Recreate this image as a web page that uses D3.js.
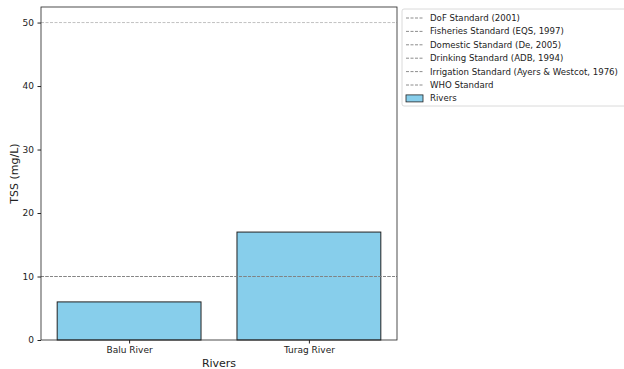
<!DOCTYPE html>
<html><head><meta charset="utf-8">
<script src="https://cdn.jsdelivr.net/npm/d3@7"></script>
<style>body{margin:0;background:#fff}svg{display:block}text{font-family:"DejaVu Sans",sans-serif}</style>
</head><body><svg id="c" width="624" height="369"></svg>
<script>
const rivers = ["Balu River", "Turag River"];
const tss = [6, 17];
const standardNames = ["DoF Standard (2001)", "Fisheries Standard (EQS, 1997)", "Domestic Standard (De, 2005)", "Drinking Standard (ADB, 1994)", "Irrigation Standard (Ayers & Westcot, 1976)", "WHO Standard"];
const standardValues = [10, 10, 10, 10, 50, 10];
const yTicks = [0, 10, 20, 30, 40, 50];

const svg = d3.select("#c");
const L = 41, R = 397, T = 7, B = 340;
const x = d3.scaleLinear().domain([-0.49, 1.49]).range([L, R]);
const y = d3.scaleLinear().domain([0, 52.45]).range([B, T]);
const barW = 0.8;

const g = svg.append("g");
g.selectAll("rect.bar").data(rivers).join("rect").attr("class","bar")
  .attr("x", (d,i)=>x(i-barW/2)).attr("width", (d,i)=>x(i+barW/2)-x(i-barW/2))
  .attr("y", (d,i)=>y(tss[i])).attr("height", (d,i)=>y(0)-y(tss[i]))
  .attr("fill","#87ceeb").attr("stroke","#222").attr("stroke-width",1);

g.selectAll("line.std").data(standardValues).join("line").attr("class","std")
  .attr("x1", L).attr("x2", R).attr("y1", d=>y(d)).attr("y2", d=>y(d))
  .attr("stroke","#808080").attr("stroke-width",0.9).attr("stroke-dasharray","3,1.5").attr("stroke-opacity",0.55);

g.append("rect").attr("x",L).attr("y",T).attr("width",R-L).attr("height",B-T)
  .attr("fill","none").attr("stroke","#222").attr("stroke-width",0.8);

const ya = svg.append("g").attr("transform",`translate(${L},0)`)
  .call(d3.axisLeft(y).tickValues(yTicks).tickSize(3.5).tickPadding(3.5));
ya.select(".domain").remove();
ya.selectAll("text").attr("font-size","9px").attr("fill","#222").attr("font-family","DejaVu Sans");
ya.selectAll("line").attr("stroke","#222");

const xa = svg.append("g").attr("transform",`translate(0,${B})`)
  .call(d3.axisBottom(x).tickValues([0,1]).tickFormat(i=>rivers[i]).tickSize(3.5).tickPadding(3.5));
xa.select(".domain").remove();
xa.selectAll("text").attr("font-size","9px").attr("fill","#222").attr("font-family","DejaVu Sans");
xa.selectAll("line").attr("stroke","#222");

svg.append("text").attr("transform",`translate(18,${(T+B)/2}) rotate(-90)`).attr("text-anchor","middle")
  .attr("font-size","11px").attr("fill","#222").text("TSS (mg/L)");
svg.append("text").attr("x",(L+R)/2).attr("y",367).attr("text-anchor","middle")
  .attr("font-size","11px").attr("fill","#222").text("Rivers");

// legend
const lg = svg.append("g");
lg.append("rect").attr("x",402).attr("y",9).attr("width",230).attr("height",97).attr("rx",2)
  .attr("fill","#fff").attr("stroke","#d0d0d0").attr("stroke-width",0.8);
const rowY = i => 18 + i*13.4;
standardNames.forEach((n,i)=>{
  lg.append("line").attr("x1",406).attr("x2",423).attr("y1",rowY(i)).attr("y2",rowY(i))
    .attr("stroke","#808080").attr("stroke-width",0.9).attr("stroke-dasharray","3,1.5");
  lg.append("text").attr("x",430).attr("y",rowY(i)).attr("dy","0.35em").attr("font-size","8.6px").attr("fill","#222").text(n);
});
lg.append("rect").attr("x",406).attr("y",rowY(6)-3.5).attr("width",17).attr("height",7)
  .attr("fill","#87ceeb").attr("stroke","#222").attr("stroke-width",0.8);
lg.append("text").attr("x",430).attr("y",rowY(6)).attr("dy","0.35em").attr("font-size","8.6px").attr("fill","#222").text("Rivers");
</script></body></html>
